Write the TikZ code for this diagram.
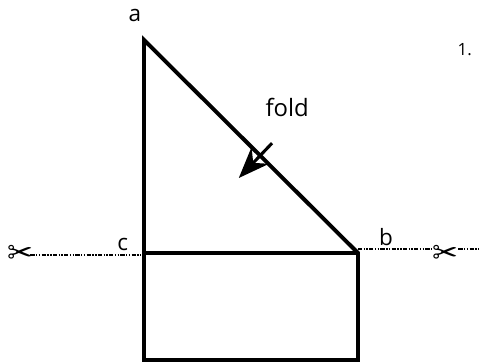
\documentclass[tikz,border=0pt]{standalone}
\usepackage{fontspec}
\setmainfont{Open Sans}
\newfontfamily\symfont{DejaVu Sans}
\usetikzlibrary{arrows.meta,positioning,calc}
\tikzset{
  foldline/.style={line width=2.8pt,black},
  creaseline/.style={line width=2.4pt,black},
  cutline/.style={line width=1.7pt,black,dash pattern=on 3pt off 1pt on 1pt off 1pt on 1pt off 1pt},
  lbl/.style={font=\fontsize{16}{18}\selectfont,inner sep=0pt},
  cutmark/.style={font=\symfont\fontsize{22}{22}\selectfont,inner sep=0pt}
}
\begin{document}
\begin{tikzpicture}
  \useasboundingbox (0,0) rectangle (11.975,9.1);
  % Corners
  \coordinate (a) at (3.6,8.1);
  \coordinate (b) at (8.95,2.775);
  \coordinate (c) at (3.6,2.775);
  \coordinate (d) at (3.6,0.1);
  \coordinate (e) at (8.95,0.1);

  % Paper
  \draw[foldline,line join=miter] (a) -- (d) -- (e) -- (b) -- cycle;
  \draw[creaseline] (c) -- (b);

  % Labels
  \node[lbl] (laba) at (3.37,8.72) {a};
  \node[lbl] (labb) at (9.65,3.17) {b};
  \node[lbl] (labc) at (3.07,3) {c};
  \node[lbl,font=\fontsize{17}{20}\selectfont] (labfold) at (7.18,6.42) {fold};
  \node[lbl,font=\fontsize{12}{14}\selectfont] (labnum) at (11.62,7.87) {1.};

  % Fold arrow
  \coordinate (foldtail) at (6.8,5.52);
  \coordinate (foldhead) at (5.97,4.65);
  \draw[-{Stealth[length=22pt,width=17pt]},line width=2.2pt] (foldtail) -- (foldhead);

  % Cut lines
  \node[cutmark] (sciL) at (0.5,2.75) {✂};
  \node[cutmark] (sciR) at (11.13,2.75) {✂};
  \coordinate (cutL) at (3.6,2.725);
  \coordinate (cutR) at (8.95,2.875);
  \coordinate (cutend) at (11.975,2.875);
  \draw[cutline] ([xshift=-2pt]sciL.east |- cutL) -- (cutL);
  \draw[cutline] (cutR) -- (sciR.west |- cutR);
  \draw[cutline] (sciR.east |- cutR) -- (cutend);
\end{tikzpicture}
\end{document}
